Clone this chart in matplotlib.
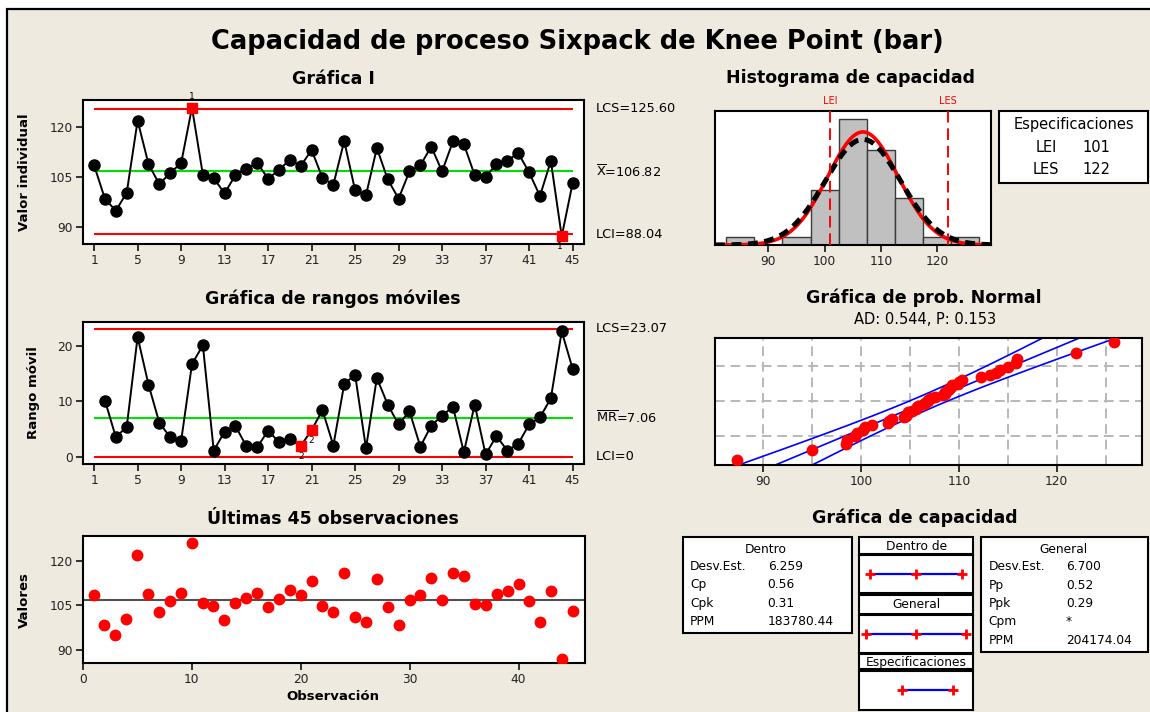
import numpy as np
import matplotlib
matplotlib.use('Agg')
import matplotlib.pyplot as plt
from matplotlib.patches import Rectangle
import matplotlib.transforms as mtransforms
from statistics import NormalDist

# ---------------- data ----------------
values = [108.6, 98.5, 95.0, 100.4, 122.0, 109.0, 102.9, 106.4, 109.2, 125.9,
          105.8, 104.7, 100.2, 105.7, 107.6, 109.3, 104.6, 107.2, 110.3, 108.4,
          113.2, 104.8, 102.8, 115.9, 101.1, 99.6, 113.8, 104.4, 98.6, 106.8,
          108.6, 114.2, 106.8, 115.8, 115.0, 105.6, 105.2, 108.9, 110.0, 112.3,
          106.5, 99.4, 109.9, 87.3, 103.2]
obs = list(range(1, len(values) + 1))

i_limits = {"LCS": 125.60, "X": 106.82, "LCI": 88.04}
mr_limits = {"LCS": 23.07, "MR": 7.06, "LCI": 0.0}
i_flags = {10: "1", 44: "1"}
mr_flags = {20: "2", 21: "2"}

LEI, LES = 101, 122
mean_val = 106.82
sd_within = 6.259
sd_overall = 6.700
hist_edges = [82.5, 87.5, 92.5, 97.5, 102.5, 107.5, 112.5, 117.5, 122.5, 127.5]

within_rows = [("Desv.Est.", "6.259"), ("Cp", "0.56"), ("Cpk", "0.31"), ("PPM", "183780.44")]
overall_rows = [("Desv.Est.", "6.700"), ("Pp", "0.52"), ("Ppk", "0.29"), ("Cpm", "*"), ("PPM", "204174.04")]
ad_text = "AD: 0.544, P: 0.153"

# ---------------- setup ----------------
W, H = 1150, 712
BG = '#EEEAE0'
plt.rcParams['font.family'] = ['DejaVu Sans']
fig = plt.figure(figsize=(W / 100, H / 100), dpi=100, facecolor='white')

fig.patches.append(Rectangle((7 / W, -0.05), 1.2, 1.05 - 9 / H, transform=fig.transFigure,
                             facecolor=BG, edgecolor='black', lw=1.6, zorder=-10))


def add_ax(l, t, r, b):
    return fig.add_axes([l / W, 1 - b / H, (r - l) / W, (b - t) / H])


def ftext(x, y, s, **kw):
    kw.setdefault('ha', 'center')
    kw.setdefault('va', 'center')
    return fig.text(x / W, 1 - y / H, s, **kw)


def frect(l, t, r, b, lw=1.5):
    fig.patches.append(Rectangle((l / W, 1 - b / H), (r - l) / W, (b - t) / H,
                                 transform=fig.transFigure, facecolor='white',
                                 edgecolor='black', lw=lw, zorder=1))


def style(ax):
    ax.set_facecolor('white')
    for sp in ax.spines.values():
        sp.set_linewidth(1.5)
    ax.tick_params(direction='out', length=5, width=1.3, labelsize=8.8, pad=2, colors='#222222')
    ax.tick_params(axis='both', labelcolor='#222222')


RED = '#FF0000'
GREEN = '#00E000'

ftext(577, 42, "Capacidad de proceso Sixpack de Knee Point (bar)", fontsize=18.5, fontweight='bold')

# ---------------- I chart ----------------
ax1 = add_ax(82.7, 100, 584, 244)
style(ax1)
ax1.hlines([i_limits["LCS"], i_limits["LCI"]], 1, len(values), color=RED, lw=1.5, zorder=1)
ax1.hlines([i_limits["X"]], 1, len(values), color=GREEN, lw=1.5, zorder=1)
ax1.plot(obs, values, '-', color='black', lw=1.4, zorder=2)
norm_o = [o for o in obs if o not in i_flags]
ax1.plot(norm_o, [values[o - 1] for o in norm_o], 'o', color='black', ms=8, zorder=3)
fl = list(i_flags)
ax1.plot(fl, [values[o - 1] for o in fl], 's', color=RED, ms=7, zorder=4)
for o, lab in i_flags.items():
    v = values[o - 1]
    if v > i_limits["X"]:
        ax1.annotate(lab, (o, v), xytext=(0, 4.5), textcoords='offset points', ha='center', va='bottom', fontsize=6.5)
    else:
        ax1.annotate(lab, (o, v), xytext=(-1, -4), textcoords='offset points', ha='center', va='top', fontsize=6.5)
ax1.set_xlim(-0.05, 46.05)
ax1.set_ylim(85.0, 128.2)
ax1.set_xticks(range(1, 46, 4))
ax1.set_yticks([90, 105, 120])
ftext(333, 79, "Gráfica I", fontsize=12.5, fontweight='bold')
ftext(24, 172, "Valor individual", fontsize=9.5, fontweight='bold', rotation=90)
ftext(596, 109, "LCS=%.2f" % i_limits["LCS"], fontsize=9.3, ha='left')
ftext(596, 171.5, r"$\overline{\mathrm{X}}$=%.2f" % i_limits["X"], fontsize=9.3, ha='left')
ftext(596, 235, "LCI=%.2f" % i_limits["LCI"], fontsize=9.3, ha='left')

# ---------------- MR chart ----------------
mr = np.abs(np.diff(values))
mr_obs = obs[1:]
ax2 = add_ax(82.7, 322, 584, 464)
style(ax2)
ax2.hlines([mr_limits["LCS"], mr_limits["LCI"]], 1, len(values), color=RED, lw=1.5, zorder=1)
ax2.hlines([mr_limits["MR"]], 1, len(values), color=GREEN, lw=1.5, zorder=1)
ax2.plot(mr_obs, mr, '-', color='black', lw=1.4, zorder=2)
nm = [(o, m) for o, m in zip(mr_obs, mr) if o not in mr_flags]
ax2.plot([a for a, _ in nm], [b for _, b in nm], 'o', color='black', ms=8, zorder=3)
fm = [(o, m) for o, m in zip(mr_obs, mr) if o in mr_flags]
ax2.plot([a for a, _ in fm], [b for _, b in fm], 's', color=RED, ms=7, zorder=4)
for o, m in fm:
    ax2.annotate(mr_flags[o], (o, m), xytext=(0, -4), textcoords='offset points', ha='center', va='top', fontsize=6.5)
ax2.set_xlim(-0.05, 46.05)
ax2.set_ylim(-1.33, 24.3)
ax2.set_xticks(range(1, 46, 4))
ax2.set_yticks([0, 10, 20])
ftext(333, 299, "Gráfica de rangos móviles", fontsize=12.5, fontweight='bold')
ftext(33, 393, "Rango móvil", fontsize=9.5, fontweight='bold', rotation=90)
ftext(596, 329, "LCS=%.2f" % mr_limits["LCS"], fontsize=9.3, ha='left')
ftext(596, 417.5, r"$\overline{\mathrm{MR}}$=%.2f" % mr_limits["MR"], fontsize=9.3, ha='left')
ftext(596, 456.5, "LCI=%g" % mr_limits["LCI"], fontsize=9.3, ha='left')

# ---------------- Last 45 ----------------
ax3 = add_ax(82.7, 536, 585, 663)
style(ax3)
ax3.axhline(mean_val, color='#505050', lw=1.5, zorder=1)
ax3.plot(obs, values, 'o', color=RED, ms=7.5, zorder=3)
ax3.set_xlim(0, 46.1)
ax3.set_ylim(85.8, 128.2)
ax3.set_xticks([0, 10, 20, 30, 40])
ax3.set_yticks([90, 105, 120])
ftext(333, 519, "Últimas 45 observaciones", fontsize=12.5, fontweight='bold')
ftext(24, 600, "Valores", fontsize=9.5, fontweight='bold', rotation=90)
ftext(333, 697, "Observación", fontsize=9.5, fontweight='bold')

# ---------------- Histogram ----------------
ax4 = add_ax(715, 111, 991, 245)
style(ax4)
ax4.hist(values, bins=hist_edges, color='#C0C0C0', edgecolor='#3A3A3A', lw=1.0, zorder=1)
xs = np.linspace(80.5, 129.6, 400)
n = len(values)
bw = hist_edges[1] - hist_edges[0]
pdf_w = n * bw * np.exp(-0.5 * ((xs - mean_val) / sd_within) ** 2) / (sd_within * np.sqrt(2 * np.pi))
pdf_o = n * bw * np.exp(-0.5 * ((xs - mean_val) / sd_overall) ** 2) / (sd_overall * np.sqrt(2 * np.pi))
ax4.plot(xs, pdf_w, color=RED, lw=2.6, zorder=3)
ax4.plot(xs, pdf_o, color='black', lw=3.6, ls=(0, (2.0, 1.3)), zorder=4)
for s, lab in [(LEI, "LEI"), (LES, "LES")]:
    ax4.axvline(s, color=RED, lw=1.4, ls=(0, (6, 3)), zorder=5)
    tr = mtransforms.blended_transform_factory(ax4.transData, ax4.transAxes)
    ax4.text(s, 1.04, lab, transform=tr, color=RED, fontsize=7, ha='center', va='bottom')
ax4.set_xlim(80.5, 129.6)
ax4.set_ylim(0, 17)
ax4.set_xticks([90, 100, 110, 120])
ax4.set_yticks([])
ftext(851, 78, "Histograma de capacidad", fontsize=12.5, fontweight='bold')

frect(999.3, 110.7, 1148, 182.7)
ftext(1073.5, 124.5, "Especificaciones", fontsize=10.5, zorder=2)
ftext(1046, 147, "LEI", fontsize=10.5, zorder=2)
ftext(1096, 147, str(LEI), fontsize=10.5, zorder=2)
ftext(1046, 169.5, "LES", fontsize=10.5, zorder=2)
ftext(1096, 169.5, str(LES), fontsize=10.5, zorder=2)

# ---------------- Probability plot ----------------
ax5 = add_ax(715, 337.7, 1141.7, 465)
style(ax5)
nd = NormalDist()
zlim = nd.inv_cdf(0.99)
for gx in range(90, 130, 5):
    ax5.axvline(gx, color='#B8B8B8', lw=1.4, ls=(0, (5, 3)), zorder=0)
for p in [0.1, 0.5, 0.9]:
    ax5.axhline(nd.inv_cdf(p), color='#B8B8B8', lw=1.4, ls=(0, (5, 3)), zorder=0)
zz = np.linspace(-zlim, zlim, 200)
xp = mean_val + zz * sd_overall
half = 1.96 * sd_overall * np.sqrt(1.0 / n + zz ** 2 / (2.0 * n))
for line in (xp, xp - half, xp + half):
    ax5.plot(line, zz, color='#0000FF', lw=1.2, zorder=2)
sv = sorted(values)
zq = [nd.inv_cdf((i - 0.3) / (n + 0.4)) for i in range(1, n + 1)]
ax5.plot(sv, zq, 'o', color=RED, ms=7.5, zorder=3)
ax5.set_xlim(85.06, 128.7)
ax5.set_ylim(-zlim, zlim)
ax5.set_xticks([90, 100, 110, 120])
ax5.set_yticks([])
ftext(924, 298, "Gráfica de prob. Normal", fontsize=12.5, fontweight='bold')
ftext(925, 320, ad_text, fontsize=10.5)

# ---------------- Capability plot ----------------
ftext(915, 518, "Gráfica de capacidad", fontsize=12.5, fontweight='bold')

frect(683.3, 536.7, 851.7, 632.7)
ftext(766, 549.5, "Dentro", fontsize=8.8, zorder=2)
for k, (a, b) in enumerate(within_rows):
    y = 566.7 + k * 18.2
    ftext(690, y, a, fontsize=8.8, ha='left', zorder=2)
    ftext(767.7, y, b, fontsize=8.8, ha='left', zorder=2)

frect(981, 536.7, 1148.3, 651.7)
ftext(1063.5, 549.5, "General", fontsize=8.8, zorder=2)
for k, (a, b) in enumerate(overall_rows):
    y = 566.7 + k * 18.4
    ftext(988.3, y, a, fontsize=8.8, ha='left', zorder=2)
    ftext(1066, y, b, fontsize=8.8, ha='left', zorder=2)

# middle column
headers = [("Dentro de", 536.7, 554.3), ("General", 594.7, 614.0), ("Especificaciones", 654.0, 669.3)]
for txt, t, b in headers:
    frect(859.3, t, 973.3, b)
    ftext(916.3, (t + b) / 2 + 0.5, txt, fontsize=8.8, zorder=2)

cap_rows = [
    (555.3, 593.3, [mean_val - 3 * sd_within, mean_val, mean_val + 3 * sd_within]),
    (615.3, 652.7, [mean_val - 3 * sd_overall, mean_val, mean_val + 3 * sd_overall]),
    (670.7, 710.0, [LEI, LES]),
]
for t, b, pts in cap_rows:
    ax = add_ax(859.3, t, 973.3, b)
    ax.set_facecolor('white')
    for sp in ax.spines.values():
        sp.set_linewidth(1.5)
    ax.set_xticks([])
    ax.set_yticks([])
    ax.plot([pts[0], pts[-1]], [0.5, 0.5], color='#0000FF', lw=1.6, zorder=1)
    ax.plot(pts, [0.5] * len(pts), '+', color=RED, ms=7, mew=2.0, zorder=2)
    ax.set_xlim(83.8, 130.05)
    ax.set_ylim(0, 1)

fig.savefig('out.png', dpi=100, facecolor=fig.get_facecolor())
